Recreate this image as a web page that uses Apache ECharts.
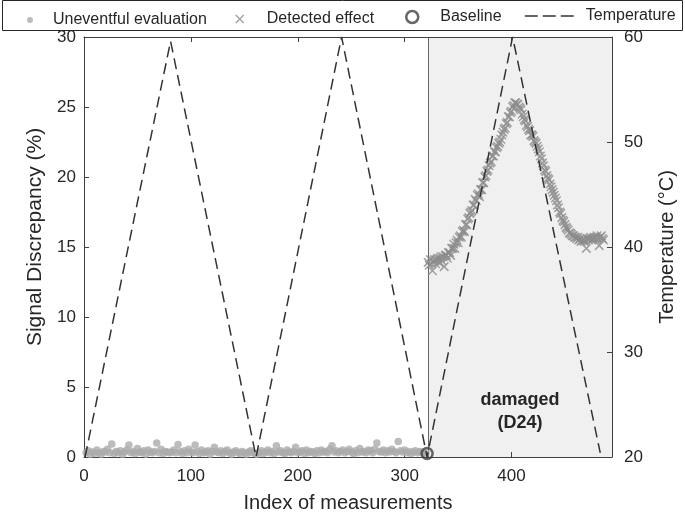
<!DOCTYPE html>
<html><head><meta charset="utf-8">
<script src="https://cdn.jsdelivr.net/npm/echarts@6/dist/echarts.min.js"></script>
<style>html,body{margin:0;padding:0;background:#fff}#c{width:685px;height:518px}</style>
</head><body><div id="c"></div>
<script>
// ---------- data ----------
const xTickLabels = [0, 100, 200, 300, 400];
const xMin = 0, xMax = 494;
const leftMin = 0, leftMax = 30, leftInterval = 5;
const rightMin = 20, rightMax = 60, rightInterval = 10;

// Uneventful evaluation: indices start at 2, every 2nd measurement
const uneventfulStart = 2, uneventfulStep = 2;
const uneventfulValues = [
  0.3,0.45,0.2,0.35,0.25,0.5,0.3,0.2,0.4,0.35,0.55,0.3,0.92,0.25,0.4,0.3,0.45,0.2,0.35,0.5,
  0.85,0.3,0.4,0.25,0.6,0.35,0.3,0.45,0.2,0.5,0.35,0.3,0.4,1.0,0.3,0.55,0.25,0.4,0.35,0.3,
  0.35,0.5,0.3,0.9,0.4,0.25,0.45,0.3,0.55,0.35,0.3,0.85,0.4,0.25,0.5,0.3,0.35,0.45,0.2,0.4,
  0.7,0.35,0.3,0.45,0.25,0.4,0.5,0.3,0.2,0.35,0.45,0.3,0.25,0.4,0.3,0.2,0.35,0.45,0.3,0.25,
  0.2,0.3,0.45,0.25,0.35,0.5,0.3,0.4,0.25,0.8,0.35,0.45,0.3,0.25,0.5,0.35,0.3,0.4,0.7,0.3,
  0.35,0.45,0.25,0.5,0.3,0.4,0.35,0.25,0.45,0.3,0.5,0.35,0.4,0.3,0.55,0.8,0.35,0.45,0.3,0.4,
  0.5,0.3,0.4,0.55,0.35,0.25,0.45,0.3,0.6,0.35,0.4,0.3,0.5,0.45,0.3,0.55,1.0,0.4,0.35,0.5,
  0.3,0.45,0.35,0.55,0.4,0.3,1.1,0.45,0.35,0.5,0.3,0.4,0.25,0.35,0.45,0.3,0.4,0.35,0.25,0.3
];

// Detected effect: one value per measurement from index 322
const detectedStart = 322;
const detectedValues = [
  13.9,13.7,14.1,13.8,13.3,14.0,14.1,13.8,14.1,14.2,
  13.9,14.2,14.3,14.0,14.3,13.6,14.4,14.4,14.2,14.6,
  14.6,14.4,14.9,14.9,15.2,14.9,15.3,15.5,15.3,15.7,
  15.8,15.7,16.1,16.2,16.1,16.6,16.6,17.0,17.1,17.4,
  17.5,17.6,18.0,18.0,18.4,18.3,18.7,18.8,18.6,19.1,
  19.1,19.6,19.6,20.0,20.1,20.4,20.5,20.8,21.0,21.1,
  21.5,21.5,21.8,21.8,22.1,22.2,22.4,22.5,22.7,23.0,
  23.2,23.4,23.5,23.8,23.9,24.3,24.3,24.6,24.7,25.0,
  25.1,25.3,25.3,25.2,25.2,25.0,24.9,24.8,24.5,24.3,
  24.1,24.0,23.7,23.6,23.4,23.3,23.0,23.0,22.9,22.6,
  22.5,22.4,22.2,22.0,21.8,21.5,21.3,21.0,20.8,20.5,
  20.4,20.1,19.9,19.8,19.5,19.3,19.1,18.9,18.7,18.5,
  18.3,18.0,17.8,17.5,17.4,17.1,16.9,16.8,16.6,16.4,
  16.3,16.2,16.0,16.0,15.9,15.8,15.8,15.7,15.7,15.6,
  15.7,15.5,15.6,15.4,15.5,15.5,15.4,15.5,14.9,15.6,
  15.5,15.6,15.7,15.5,15.6,15.7,15.6,15.7,15.8,15.6,
  15.1,15.7,15.8,15.6,15.5
];

const baselineX = [321];
const baselineY = [0.25];

const tempX = [1, 81, 161, 241, 321, 401, 483];
const tempY = [20, 59.6, 20, 60, 20, 60, 20.4];

const damagedStart = 322;
const damagedLabel = 'damaged\n(D24)';

// ---------- build ----------
const FF = '"Liberation Sans", Arial, Helvetica, sans-serif';
const AX = '#404040';
const TXT = '#262626';

const uneventfulData = uneventfulValues.map((v, i) => [uneventfulStart + i * uneventfulStep, v]);
const detectedData = detectedValues.map((v, i) => [detectedStart + i, v]);
const baselineData = baselineX.map((x, i) => [x, baselineY[i]]);
const tempData = tempX.map((x, i) => [x, tempY[i]]);

const xPath = 'path://M0,0L10,10M10,0L0,10';

const chart = echarts.init(document.getElementById('c'), null, {renderer: 'canvas'});

const legendText = (pad) => ({fontSize: 16, color: TXT, fontFamily: FF, padding: [0, 0, 0, pad]});

chart.setOption({
  animation: false,
  backgroundColor: '#fff',
  grid: {left: 84, right: 65, top: 37, bottom: 59, containLabel: false},
  graphic: [{
    type: 'rect', z: 0,
    shape: {x: 2.5, y: 0.5, width: 680, height: 30},
    style: {fill: '#fff', stroke: TXT, lineWidth: 1}
  }],
  legend: [
    {data: ['Uneventful evaluation'], left: 27, top: 12, padding: 0, itemWidth: 6, itemHeight: 6,
     textStyle: legendText(15)},
    {data: ['Detected effect'], left: 235, top: 11, padding: 0, itemWidth: 8, itemHeight: 8,
     itemStyle: {borderWidth: 1.5, borderColor: '#8c8c8c'}, textStyle: legendText(18)},
    {data: ['Baseline'], left: 405, top: 9, padding: 0, itemWidth: 12, itemHeight: 12,
     itemStyle: {borderWidth: 2.5, borderColor: '#404040', color: 'rgba(0,0,0,0)'}, textStyle: legendText(17)},
    {data: ['Temperature'], left: 524, top: 8, padding: 0, itemWidth: 50, itemHeight: 14,
     itemStyle: {color: 'rgba(0,0,0,0)', borderWidth: 0, opacity: 0},
     lineStyle: {type: [13, 5], width: 1.5, color: '#333333'},
     textStyle: legendText(6)}
  ],
  xAxis: [{
    type: 'value', min: xMin, max: xMax, interval: 100, position: 'bottom', z: 1,
    axisLine: {show: true, onZero: false, lineStyle: {color: AX, width: 1}},
    axisTick: {show: true, inside: true, length: 5, lineStyle: {color: AX}},
    axisLabel: {margin: 11, fontSize: 17, color: TXT, fontFamily: FF,
      formatter: v => xTickLabels.indexOf(v) >= 0 ? String(v) : ''},
    splitLine: {show: false},
    name: 'Index of measurements', nameLocation: 'middle', nameGap: 36,
    nameTextStyle: {fontSize: 20, color: TXT, fontFamily: FF}
  }, {
    type: 'value', min: xMin, max: xMax, interval: 100, position: 'top', z: 1,
    axisLine: {show: true, onZero: false, lineStyle: {color: AX, width: 1}},
    axisTick: {show: true, inside: true, length: 5, lineStyle: {color: AX}},
    axisLabel: {show: false}, splitLine: {show: false}
  }],
  yAxis: [{
    type: 'value', min: leftMin, max: leftMax, interval: leftInterval, position: 'left', z: 1,
    axisLine: {show: true, onZero: false, lineStyle: {color: AX, width: 1}},
    axisTick: {show: true, inside: true, length: 5, lineStyle: {color: AX}},
    axisLabel: {margin: 8, fontSize: 17, color: TXT, fontFamily: FF},
    splitLine: {show: false},
    name: 'Signal Discrepancy (%)', nameLocation: 'middle', nameGap: 36,
    nameTextStyle: {fontSize: 21, color: TXT, fontFamily: FF, padding: [0, 0, 0, 20]}
  }, {
    type: 'value', min: rightMin, max: rightMax, interval: rightInterval, position: 'right', z: 1,
    axisLine: {show: true, onZero: false, lineStyle: {color: AX, width: 1}},
    axisTick: {show: true, inside: true, length: 5, lineStyle: {color: AX}},
    axisLabel: {margin: 12, fontSize: 17, color: TXT, fontFamily: FF},
    splitLine: {show: false},
    name: 'Temperature (°C)', nameLocation: 'middle', nameGap: 45,
    nameTextStyle: {fontSize: 20, color: TXT, fontFamily: FF}
  }],
  series: [{
    name: 'Uneventful evaluation', type: 'scatter', xAxisIndex: 0, yAxisIndex: 0,
    symbol: 'circle', symbolSize: 7.5, z: 2,
    itemStyle: {color: '#ababab'},
    data: uneventfulData
  }, {
    name: 'Detected effect', type: 'scatter', xAxisIndex: 0, yAxisIndex: 0,
    symbol: xPath, symbolSize: 8.5, z: 2,
    itemStyle: {color: '#8c8c8c', borderColor: '#8c8c8c', borderWidth: 1.5},
    data: detectedData
  }, {
    name: 'Baseline', type: 'scatter', xAxisIndex: 0, yAxisIndex: 0,
    symbol: 'circle', symbolSize: 11, z: 3,
    itemStyle: {color: 'rgba(0,0,0,0)', borderColor: '#404040', borderWidth: 2.5},
    data: baselineData
  }, {
    name: 'Temperature', type: 'line', xAxisIndex: 0, yAxisIndex: 1,
    symbol: 'none', z: 4, clip: true,
    lineStyle: {color: '#333333', width: 1.5, type: [11, 6]},
    itemStyle: {color: '#333333'},
    data: tempData,
    markArea: {
      silent: true, z: 0.5,
      itemStyle: {color: '#f0f0f0'},
      label: {show: true, position: 'insideBottom', distance: 22, formatter: damagedLabel,
        fontWeight: 'bold', fontSize: 18, lineHeight: 23, color: TXT, fontFamily: FF},
      data: [[{xAxis: damagedStart}, {xAxis: xMax}]]
    },
    markLine: {
      silent: true, symbol: ['none', 'none'], z: 1,
      lineStyle: {color: '#666666', type: 'solid', width: 1},
      label: {show: false},
      data: [{xAxis: damagedStart}]
    }
  }]
});
</script>
</body></html>
